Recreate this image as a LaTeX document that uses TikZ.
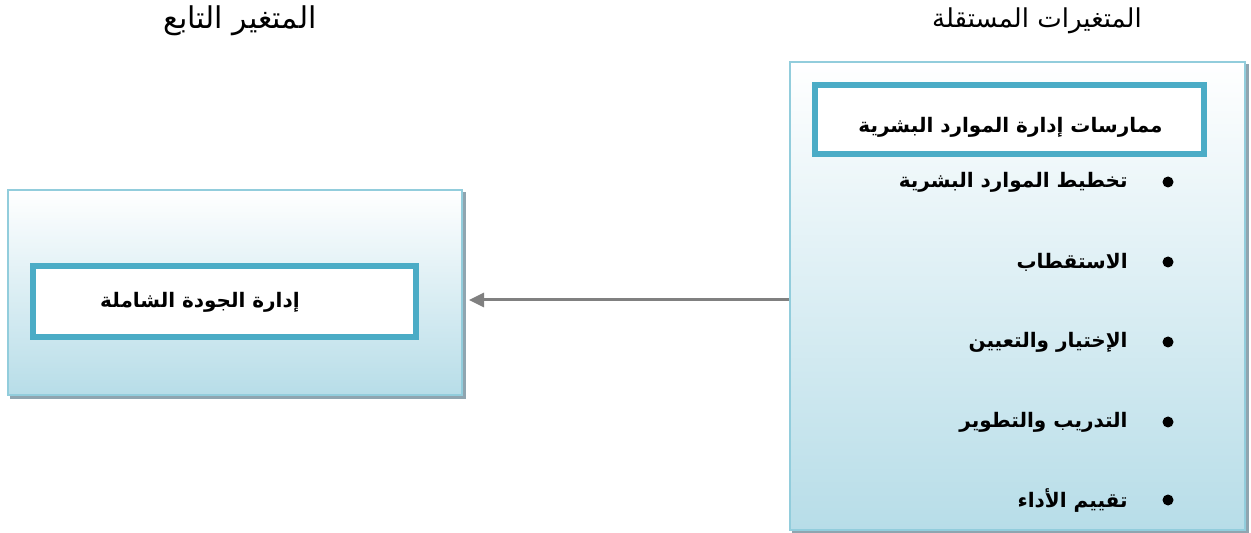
\documentclass[tikz,border=0pt]{standalone}
\usepackage{fontspec}
\newfontfamily\arabicfont[Script=Arabic]{DejaVu Sans}
\TeXXeTstate=1
\usetikzlibrary{arrows.meta,backgrounds}
\definecolor{framec}{RGB}{146,205,220}
\definecolor{innerc}{RGB}{75,172,198}
\definecolor{fillbot}{RGB}{183,221,232}
\definecolor{shadowc}{RGB}{143,165,176}
\definecolor{arrowc}{RGB}{128,128,128}
\tikzset{
  outerbox/.style={draw=framec, line width=1pt, top color=white, bottom color=fillbot, inner sep=0pt},
  innerbox/.style={draw=innerc, line width=3pt, fill=white, inner sep=0pt},
  boxtext/.style={font=\arabicfont\bfseries\fontsize{10}{12}\selectfont, inner sep=0pt},
  titletext/.style={font=\arabicfont\fontsize{13}{15}\selectfont, inner sep=0pt},
  item/.style={boxtext, anchor=east},
  dot/.style={circle, fill=black, minimum size=5.5pt, inner sep=0pt},
  conn/.style={draw=arrowc, line width=1.5pt, -{Triangle[length=7.5pt,width=7pt]}},
}
\begin{document}
\begin{tikzpicture}[x=0.5pt, y=-0.5pt]
\useasboundingbox (0,0) rectangle (1251,533);

% column headings
\node[titletext, font=\arabicfont\fontsize{15}{17}\selectfont] (tdep) at (240,21) {\beginR المتغير التابع\endR};
\node[titletext] (tind) at (1037,21) {\beginR المتغيرات المستقلة\endR};

% dependent variable
\node[outerbox, minimum width=227pt, minimum height=102.5pt] (lb) at (235,292.5) {};
\node[innerbox, minimum width=191.5pt, minimum height=35.5pt] (li) at (224.5,301.5) {};
\node[boxtext] (lt) at (200,302) {\beginR إدارة الجودة الشاملة\endR};

% independent variables
\node[outerbox, minimum width=227.5pt, minimum height=234pt] (rb) at (1017.5,296) {};
\node[innerbox, minimum width=194.5pt, minimum height=34.5pt] (ri) at (1009.5,119.5) {};
\node[boxtext, anchor=east] (rt) at (1163,127) {\beginR ممارسات إدارة الموارد البشرية\endR};

\node[dot] (d1) at (1168,182) {};
\node[dot] (d2) at (1168,262) {};
\node[dot] (d3) at (1168,342) {};
\node[dot] (d4) at (1168,422) {};
\node[dot] (d5) at (1168,500) {};
\node[item] (i1) at (1128,182) {\beginR تخطيط الموارد البشرية\endR};
\node[item] (i2) at (1128,262) {\beginR الاستقطاب\endR};
\node[item] (i3) at (1128,342) {\beginR الإختيار والتعيين\endR};
\node[item] (i4) at (1128,422) {\beginR التدريب والتطوير\endR};
\node[item] (i5) at (1128,500) {\beginR تقييم الأداء\endR};

% page background and drop shadows behind the boxes
\begin{scope}[on background layer]
  \fill[white] (0,0) rectangle (1251,533);
  \fill[shadowc] ([shift={(3,3)}]lb.south west) rectangle ([shift={(3,3)}]lb.north east);
  \fill[shadowc] ([shift={(3,3)}]rb.south west) rectangle ([shift={(3,3)}]rb.north east);
\end{scope}

% relation
\draw[conn, shorten >=3pt] ([yshift=-2pt]rb.west) -- ([yshift=-3.75pt]lb.east);
\end{tikzpicture}
\end{document}
